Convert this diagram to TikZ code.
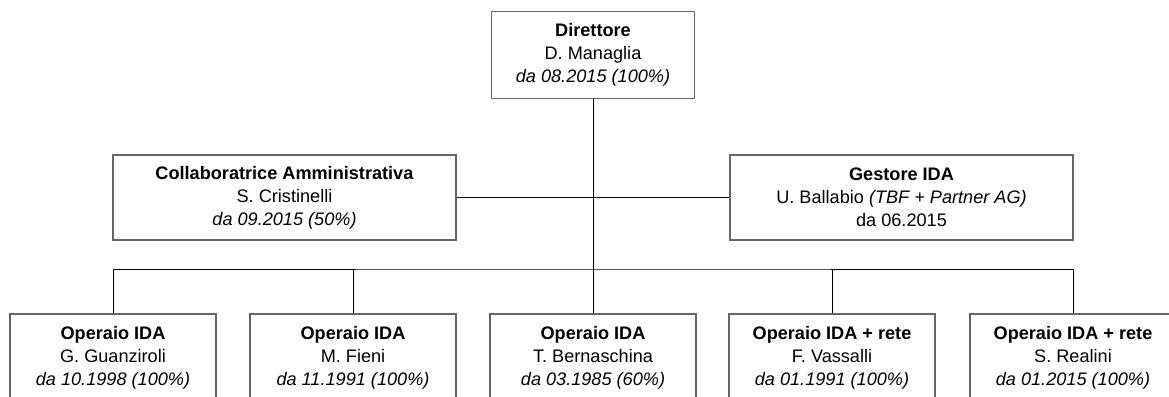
\documentclass[tikz,border=0pt]{standalone}
\usepackage{fontspec}
\setmainfont{Liberation Sans}
\usetikzlibrary{positioning}
\tikzset{block/.style =
   {rectangle,
    draw=black!60,
    line width=1.1pt,
    align=center,
    inner sep=0pt,
    font=\fontsize{13.6}{17.2}\selectfont}}
\tikzset{head/.style =
   {block,
    minimum width=152pt,
    minimum height=65pt}}
\tikzset{side/.style =
   {block,
    minimum width=257pt,
    minimum height=64pt}}
\tikzset{worker/.style =
   {block,
    minimum width=154.5pt,
    minimum height=65pt}}
\tikzset{link/.style = {draw, black, line width=0.65pt}}
\begin{document}
\begin{tikzpicture}[x=0.75pt, y=-0.75pt]

    \useasboundingbox (0,0) rectangle (1169,396);
    \clip (0,0) rectangle (1169,396);

    \node [head] (dir) at (593,55)
    {\textbf{Direttore}\\ D. Managlia\\ \textit{da 08.2015 (100\%)}};

    \node [side] (collab) at (284.5,197.5)
    {\textbf{Collaboratrice Amministrativa}\\ S. Cristinelli\\ \textit{da 09.2015 (50\%)}};
    \node [side] (gestore) at (901.5,197.5)
    {\textbf{Gestore IDA}\\ U. Ballabio \textit{(TBF + Partner AG)}\\ da 06.2015};

    \node [worker] (op1) at (113,357.5)
    {\textbf{Operaio IDA}\\ G. Guanziroli\\ \textit{da 10.1998 (100\%)}};
    \node [worker] (op2) at (353,357.5)
    {\textbf{Operaio IDA}\\ M. Fieni\\ \textit{da 11.1991 (100\%)}};
    \node [worker] (op3) at (593,357.5)
    {\textbf{Operaio IDA}\\ T. Bernaschina\\ \textit{da 03.1985 (60\%)}};
    \node [worker] (op4) at (832,357.5)
    {\textbf{Operaio IDA + rete}\\ F. Vassalli\\ \textit{da 01.1991 (100\%)}};
    \node [worker] (op5) at (1073,357.5)
    {\textbf{Operaio IDA + rete}\\ S. Realini\\ \textit{da 01.2015 (100\%)}};

    \coordinate (hub) at (593,269);

    \path [link] (dir) -- (hub);
    \path [link] (collab) -- (gestore);
    \path [link] (op1.north) |- (hub) -| (op5.north);
    \path [link] (op2.north) -- (op2.north |- hub);
    \path [link] (op3.north) -- (hub);
    \path [link] (op4.north) -- (op4.north |- hub);

\end{tikzpicture}
\end{document}
